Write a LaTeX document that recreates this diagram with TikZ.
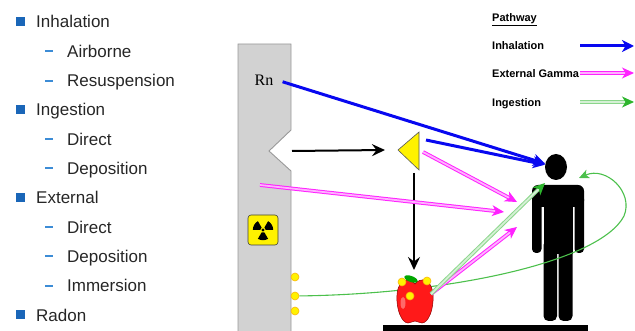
\documentclass[tikz,border=0pt]{standalone}
\usepackage{fontspec}
\setmainfont{Liberation Sans}
\newfontfamily\rnfont{Liberation Serif}
\usetikzlibrary{shapes,positioning,arrows.meta}

\definecolor{bulletblue}{HTML}{1A66B8}
\definecolor{dashblue}{HTML}{3C8CD6}
\definecolor{wallgray}{HTML}{D2D2D2}
\definecolor{pathblue}{HTML}{0808F0}
\definecolor{gammapink}{HTML}{FF22FF}
\definecolor{ingestgreen}{HTML}{2DB52D}

\tikzset{
  item/.style={anchor=base west, inner sep=0pt, text=black!85, font=\fontsize{17}{17}\selectfont},
  legtext/.style={anchor=base west, inner sep=0pt, font=\fontsize{11}{11}\selectfont\bfseries},
  dot/.style={circle, draw=yellow!45!orange, fill=yellow, inner sep=0pt, minimum size=8pt, line width=0.6pt},
  inhal/.style={draw=pathblue, line width=3pt, -{Stealth[length=12pt,width=12pt,inset=3.5pt]}},
  gamma/.style={draw=gammapink, double=gammapink!35, double distance=1.8pt, line width=1pt,
    -{Stealth[length=12pt,width=11pt,inset=3.5pt]}},
  ingest/.style={draw=ingestgreen!55, double=ingestgreen!20, double distance=1.8pt, line width=1pt,
    -{Stealth[length=12pt,width=11pt,inset=3.5pt,ingestgreen]}},
  ingcurve/.style={draw=ingestgreen!85, line width=1.1pt, -{Stealth[length=10pt,width=9pt,inset=2.5pt]}},
  blk/.style={draw=black, line width=2pt, -{Stealth[length=13pt,width=12pt,inset=4.5pt]}},
}

\begin{document}
\begin{tikzpicture}[x=1pt,y=-1pt]
  \useasboundingbox (0,0) rectangle (635,331);

  % list of pathways
  \foreach \lvl/\txt [count=\i] in {0/Inhalation,1/Airborne,1/Resuspension,0/Ingestion,1/Direct,1/Deposition,0/External,1/Direct,1/Deposition,1/Immersion,0/Radon}{
    \pgfmathsetmacro{\yy}{22+(\i-1)*29.3}
    \ifnum\lvl=0
      \fill[bulletblue] (16,\yy-4.5) rectangle ++(9,9);
      \node[item] (item\i) at (36,\yy+6) {\txt};
    \else
      \fill[dashblue] (45,\yy-1) rectangle ++(8,2);
      \node[item] (item\i) at (67,\yy+6) {\txt};
    \fi
  }

  % wall with the notch
  \filldraw[fill=wallgray, draw=gray!80, line width=0.9pt]
    (238,44) -- (291,44) -- (291,130) -- (269,151) -- (291,171) -- (291,334) -- (238,334) -- cycle;
  \node[font=\rnfont\fontsize{16}{16}\selectfont] (rn) at (264,80) {Rn};
  \coordinate (notch) at (292,151);
  \coordinate (wsrc) at (260,185);

  % hazard sign
  \node[draw=gray!50!black, fill=yellow, rounded corners=3pt, minimum size=30pt, line width=0.6pt] (hazard) at (263,230) {};
  \foreach \a in {90,210,330}
    \fill (hazard.center) ++(\a-30:2.8) arc[start angle=\a-30, end angle=\a+30, radius=2.8]
      -- ++(\a+30:7.4) arc[start angle=\a+30, end angle=\a-30, radius=10.2] -- cycle;
  \fill (hazard.center) circle (1.6);

  \node[dot] (wd1) at (295,277) {};
  \node[dot] (wd2) at (295,296) {};
  \node[dot] (wd3) at (295,311) {};

  % deflector
  \coordinate (triL) at (398,150);
  \coordinate (triT) at (419,132);
  \coordinate (triB) at (419,170);
  \filldraw[fill=yellow, draw=gray!70!black, line width=0.6pt] (triL) -- (triT) -- (triB) -- cycle;
  \coordinate (triS) at (414,173);
  \coordinate (triE) at (426,140);
  \coordinate (triP) at (423,152);

  % person
  \node[ellipse, fill=black, minimum width=22pt, minimum height=26pt, inner sep=0pt] (head) at (556,167) {};
  \fill[rounded corners=6pt] (532,185) rectangle (584,207);
  \fill[rounded corners=4pt] (532,195) rectangle (541.5,253);
  \fill[rounded corners=4pt] (574.5,195) rectangle (584,253);
  \fill (543.5,195) rectangle (572.5,254);
  \fill[rounded corners=5pt] (543.5,240) rectangle (557,321);
  \fill[rounded corners=5pt] (558.5,240) rectangle (572.5,321);
  \coordinate (shoulder) at (545,183);
  \coordinate (headR) at (579,178);
  \coordinate (g1) at (517,202);
  \coordinate (g2) at (504,212);
  \coordinate (g3) at (517,227);
  \coordinate (loop) at (624,216);

  % ground
  \fill (383,325) rectangle (588,336);

  % food chain loop
  \draw[ingcurve] (wd2) .. controls (450,294) and (600,262) .. (loop)
    .. controls (634,192) and (606,166) .. (headR);

  % apple
  \filldraw[fill=red!90!white, draw=red!55!black, line width=0.5pt]
    (415,284) .. controls (410,277) and (398,278) .. (397,295)
    .. controls (396,310) and (402,323) .. (408,323)
    .. controls (411,323) and (413,321) .. (415,321)
    .. controls (417,321) and (419,323) .. (422,323)
    .. controls (428,323) and (434,310) .. (433,295)
    .. controls (432,278) and (420,277) .. (415,284) -- cycle;
  \fill[white, opacity=0.35] (403,303) ellipse[x radius=2.5, y radius=6];
  \fill[green!65!black, rotate around={-20:(411,279)}] (411,279) ellipse[x radius=7, y radius=3];
  \coordinate (appletop) at (414,270);
  \coordinate (appleR) at (431,294);
  \node[dot] (ad1) at (402,282) {};
  \node[dot] (ad2) at (410,296) {};
  \node[dot] (ad3) at (427,281) {};

  % pathways
  \draw[blk] (notch) -- ([xshift=-13pt]triL);
  \draw[blk] (triS) -- (appletop);
  \draw[inhal, shorten <=6pt] (rn.east) -- (head);
  \draw[inhal] (triE) -- (head);
  \draw[gamma] (triP) -- (g1);
  \draw[gamma] (wsrc) -- (g2);
  \draw[gamma] (appleR) -- (g3);
  \draw[ingest] (appleR) -- (shoulder);

  % legend
  \node[legtext] (lpath) at (492,22) {\underline{Pathway}};
  \node[legtext] (linh) at (492,50) {Inhalation};
  \node[legtext] (lgam) at (492,78) {External Gamma};
  \node[legtext] (ling) at (492,107) {Ingestion};
  \draw[inhal] (580,46) -- (634,46);
  \draw[gamma] (580,73) -- (634,73);
  \draw[ingest] (580,102) -- (634,102);
\end{tikzpicture}
\end{document}
